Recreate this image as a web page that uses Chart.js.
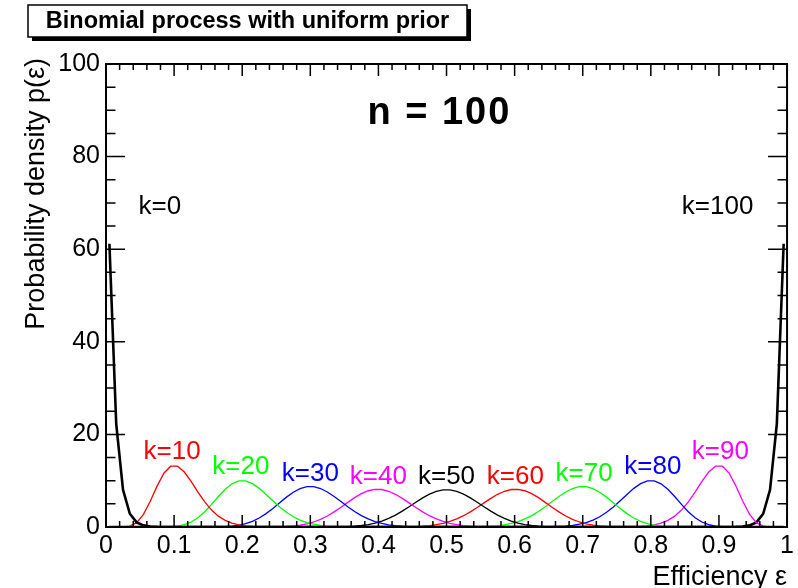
<!DOCTYPE html>
<html>
<head>
<meta charset="utf-8">
<script src="https://cdn.jsdelivr.net/npm/chart.js@4.4.1/dist/chart.umd.min.js"></script>
<style>
  html, body { margin: 0; padding: 0; background: #fff; }
  #wrap { width: 798px; height: 588px; }
</style>
</head>
<body>
<div id="wrap"><canvas id="chart" width="798" height="588"></canvas></div>
<script>
// bin centres of the efficiency axis
const eps = [
  0.005,0.015,0.025,0.035,0.045,0.055,0.065,0.075,0.085,0.095,
  0.105,0.115,0.125,0.135,0.145,0.155,0.165,0.175,0.185,0.195,
  0.205,0.215,0.225,0.235,0.245,0.255,0.265,0.275,0.285,0.295,
  0.305,0.315,0.325,0.335,0.345,0.355,0.365,0.375,0.385,0.395,
  0.405,0.415,0.425,0.435,0.445,0.455,0.465,0.475,0.485,0.495,
  0.505,0.515,0.525,0.535,0.545,0.555,0.565,0.575,0.585,0.595,
  0.605,0.615,0.625,0.635,0.645,0.655,0.665,0.675,0.685,0.695,
  0.705,0.715,0.725,0.735,0.745,0.755,0.765,0.775,0.785,0.795,
  0.805,0.815,0.825,0.835,0.845,0.855,0.865,0.875,0.885,0.895,
  0.905,0.915,0.925,0.935,0.945,0.955,0.965,0.975,0.985,0.995
];

// posterior density p(eps) for n = 100 and k successes
const k0 = [
  61.18,22.28,8.03,2.86,1.01,0.35,0.12,0.04,0.01,0,
  0,0,0,0,0,0,0,0,0,0, 0,0,0,0,0,0,0,0,0,0,
  0,0,0,0,0,0,0,0,0,0, 0,0,0,0,0,0,0,0,0,0,
  0,0,0,0,0,0,0,0,0,0, 0,0,0,0,0,0,0,0,0,0,
  0,0,0,0,0,0,0,0,0,0, 0,0,0,0,0,0,0,0,0,0,
  0,0,0,0,0,0,0,0,0,0
];
const k10 = [
  0,0,0.02,0.20,0.94,2.72,5.56,8.83,11.61,13.13,
  13.14,11.87,9.83,7.54,5.41,3.66,2.34,1.43,0.83,0.46,
  0.25,0.13,0.06,0.03,0.01,0,0,0,0,0,
  0,0,0,0,0,0,0,0,0,0, 0,0,0,0,0,0,0,0,0,0,
  0,0,0,0,0,0,0,0,0,0, 0,0,0,0,0,0,0,0,0,0,
  0,0,0,0,0,0,0,0,0,0, 0,0,0,0,0,0,0,0,0,0,
  0,0,0,0,0,0,0,0,0,0
];
const k20 = [
  0,0,0,0,0,0,0,0,0.02,0.07,
  0.20,0.50,1.08,2.00,3.30,4.88,6.58,8.14,9.32,9.95,
  9.95,9.37,8.34,7.04,5.66,4.33,3.17,2.22,1.50,0.97,
  0.60,0.36,0.21,0.12,0.06,0.03,0.02,0,0,0,
  0,0,0,0,0,0,0,0,0,0, 0,0,0,0,0,0,0,0,0,0,
  0,0,0,0,0,0,0,0,0,0, 0,0,0,0,0,0,0,0,0,0,
  0,0,0,0,0,0,0,0,0,0, 0,0,0,0,0,0,0,0,0,0
];
const k30 = [
  0,0,0,0,0,0,0,0,0,0,
  0,0,0,0,0,0.01,0.03,0.08,0.19,0.38,
  0.71,1.22,1.94,2.89,4.01,5.24,6.45,7.52,8.30,8.71,
  8.71,8.31,7.57,6.59,5.49,4.39,3.36,2.47,1.74,1.18,
  0.77,0.48,0.29,0.17,0.09,0.05,0.03,0.01,0,0,
  0,0,0,0,0,0,0,0,0,0, 0,0,0,0,0,0,0,0,0,0,
  0,0,0,0,0,0,0,0,0,0, 0,0,0,0,0,0,0,0,0,0,
  0,0,0,0,0,0,0,0,0,0
];
const k40 = [
  0,0,0,0,0,0,0,0,0,0, 0,0,0,0,0,0,0,0,0,0,
  0,0,0,0.01,0.02,0.05,0.11,0.22,0.39,0.67,
  1.08,1.65,2.38,3.26,4.27,5.32,6.34,7.20,7.83,8.14,
  8.10,7.72,7.06,6.19,5.21,4.21,3.27,2.44,1.74,1.20,
  0.79,0.50,0.31,0.18,0.10,0.05,0.03,0.01,0,0,
  0,0,0,0,0,0,0,0,0,0, 0,0,0,0,0,0,0,0,0,0,
  0,0,0,0,0,0,0,0,0,0, 0,0,0,0,0,0,0,0,0,0
];
const k50 = [
  0,0,0,0,0,0,0,0,0,0, 0,0,0,0,0,0,0,0,0,0,
  0,0,0,0,0,0,0,0,0,0,
  0,0,0.01,0.03,0.05,0.10,0.18,0.32,0.53,0.84,
  1.28,1.86,2.58,3.43,4.37,5.35,6.29,7.09,7.69,8.00,
  8.00,7.69,7.09,6.29,5.35,4.37,3.43,2.58,1.86,1.28,
  0.84,0.53,0.32,0.18,0.10,0.05,0.03,0.01,0,0,
  0,0,0,0,0,0,0,0,0,0, 0,0,0,0,0,0,0,0,0,0,
  0,0,0,0,0,0,0,0,0,0
];
const k60 = [
  0,0,0,0,0,0,0,0,0,0, 0,0,0,0,0,0,0,0,0,0,
  0,0,0,0,0,0,0,0,0,0, 0,0,0,0,0,0,0,0,0,0,
  0,0,0.01,0.03,0.05,0.10,0.18,0.31,0.50,0.79,
  1.20,1.74,2.44,3.27,4.21,5.21,6.19,7.06,7.72,8.10,
  8.14,7.83,7.20,6.34,5.32,4.27,3.26,2.38,1.65,1.08,
  0.67,0.39,0.22,0.11,0.05,0.02,0.01,0,0,0,
  0,0,0,0,0,0,0,0,0,0, 0,0,0,0,0,0,0,0,0,0
];
const k70 = [
  0,0,0,0,0,0,0,0,0,0, 0,0,0,0,0,0,0,0,0,0,
  0,0,0,0,0,0,0,0,0,0, 0,0,0,0,0,0,0,0,0,0,
  0,0,0,0,0,0,0,0,0,0,
  0,0,0.01,0.03,0.05,0.09,0.17,0.29,0.48,0.77,
  1.18,1.74,2.47,3.36,4.39,5.49,6.59,7.57,8.31,8.71,
  8.71,8.30,7.52,6.45,5.24,4.01,2.89,1.94,1.22,0.71,
  0.38,0.19,0.08,0.03,0.01,0,0,0,0,0,
  0,0,0,0,0,0,0,0,0,0
];
const k80 = [
  0,0,0,0,0,0,0,0,0,0, 0,0,0,0,0,0,0,0,0,0,
  0,0,0,0,0,0,0,0,0,0, 0,0,0,0,0,0,0,0,0,0,
  0,0,0,0,0,0,0,0,0,0, 0,0,0,0,0,0,0,0,0,0,
  0,0,0,0.02,0.03,0.06,0.12,0.21,0.36,0.60,
  0.97,1.50,2.22,3.17,4.33,5.66,7.04,8.34,9.37,9.95,
  9.95,9.32,8.14,6.58,4.88,3.30,2.00,1.08,0.50,0.20,
  0.07,0.02,0,0,0,0,0,0,0,0
];
const k90 = [
  0,0,0,0,0,0,0,0,0,0, 0,0,0,0,0,0,0,0,0,0,
  0,0,0,0,0,0,0,0,0,0, 0,0,0,0,0,0,0,0,0,0,
  0,0,0,0,0,0,0,0,0,0, 0,0,0,0,0,0,0,0,0,0,
  0,0,0,0,0,0,0,0,0,0,
  0,0,0,0,0,0.01,0.03,0.06,0.13,0.25,
  0.46,0.83,1.43,2.34,3.66,5.41,7.54,9.83,11.87,13.14,
  13.13,11.61,8.83,5.56,2.72,0.94,0.20,0.02,0,0
];
const k100 = [
  0,0,0,0,0,0,0,0,0,0, 0,0,0,0,0,0,0,0,0,0,
  0,0,0,0,0,0,0,0,0,0, 0,0,0,0,0,0,0,0,0,0,
  0,0,0,0,0,0,0,0,0,0, 0,0,0,0,0,0,0,0,0,0,
  0,0,0,0,0,0,0,0,0,0, 0,0,0,0,0,0,0,0,0,0,
  0,0,0,0,0,0,0,0,0,0,
  0,0.01,0.04,0.12,0.35,1.01,2.86,8.03,22.28,61.18
];

const curves = [k0, k10, k20, k30, k40, k50, k60, k70, k80, k90, k100];
const curveNames = ['k=0','k=10','k=20','k=30','k=40','k=50','k=60','k=70','k=80','k=90','k=100'];
const curveColors = ['#000000','#ff0000','#00ff00','#0000ff','#ff00ff','#000000',
                     '#ff0000','#00ff00','#0000ff','#ff00ff','#000000'];

// where each k label sits, in axis units
const labelX = [0.079, 0.097, 0.198, 0.300, 0.400, 0.500, 0.601, 0.702, 0.803, 0.902, 0.898];
const labelY = [69.2, 16.3, 13.0, 11.4, 10.8, 10.8, 10.8, 11.4, 13.0, 16.3, 69.2];

const FONT = "'Liberation Sans', Arial, Helvetica, sans-serif";

const datasets = curves.map((vals, i) => ({
  label: curveNames[i],
  data: vals,
  borderColor: curveColors[i],
  borderWidth: (i === 0 || i === curves.length - 1) ? 2.6 : 1.3,
  pointRadius: 0,
  tension: 0,
  fill: false
}));

// ROOT-like frame: box, inward ticks on all four sides, texts
const frame = {
  id: 'frame',
  afterDatasetsDraw(chart) {
    const { ctx, chartArea: a, scales: { x, y } } = chart;
    ctx.save();
    ctx.strokeStyle = '#000';
    ctx.lineWidth = 2;
    ctx.strokeRect(a.left, a.top, a.right - a.left, a.bottom - a.top);

    ctx.lineWidth = 1.5;
    ctx.beginPath();
    for (let i = 0; i <= 50; i++) {
      const px = x.getPixelForValue(i / 50);
      const len = i % 5 === 0 ? 12 : 6;
      ctx.moveTo(px, a.bottom); ctx.lineTo(px, a.bottom - len);
      ctx.moveTo(px, a.top); ctx.lineTo(px, a.top + len);
    }
    for (let i = 0; i <= 20; i++) {
      const py = y.getPixelForValue(i * 5);
      const len = i % 4 === 0 ? 19 : 9.5;
      ctx.moveTo(a.left, py); ctx.lineTo(a.left + len, py);
      ctx.moveTo(a.right, py); ctx.lineTo(a.right - len, py);
    }
    ctx.stroke();

    // curve labels
    ctx.textAlign = 'center';
    ctx.textBaseline = 'middle';
    ctx.font = '26px ' + FONT;
    curveNames.forEach((name, i) => {
      ctx.fillStyle = curveColors[i];
      ctx.fillText(name, x.getPixelForValue(labelX[i]), y.getPixelForValue(labelY[i]));
    });

    ctx.fillStyle = '#000';
    ctx.font = 'bold 38px ' + FONT;
    ctx.letterSpacing = '2px';
    ctx.fillText('n = 100', x.getPixelForValue(0.488) + 1, y.getPixelForValue(89.2));
    ctx.letterSpacing = '0px';

    // axis titles
    ctx.font = '27px ' + FONT;
    ctx.textAlign = 'right';
    ctx.textBaseline = 'alphabetic';
    ctx.fillText('Efficiency \u03b5', a.right, 585);

    ctx.save();
    ctx.translate(37, 58);
    ctx.rotate(-Math.PI / 2);
    ctx.textBaseline = 'middle';
    ctx.fillText('Probability density p(\u03b5)', 0, 0);
    ctx.restore();

    // title pave with shadow
    ctx.fillStyle = '#000';
    ctx.fillRect(32, 9, 439, 32);
    ctx.fillStyle = '#fff';
    ctx.fillRect(28, 5, 439, 32);
    ctx.lineWidth = 1.5;
    ctx.strokeRect(28, 5, 439, 32);
    ctx.fillStyle = '#000';
    ctx.textAlign = 'center';
    ctx.textBaseline = 'middle';
    ctx.font = 'bold 23.5px ' + FONT;
    ctx.fillText('Binomial process with uniform prior', 247.5, 22);
    ctx.restore();
  }
};

const ctx = document.getElementById('chart').getContext('2d');
const chart = new Chart(ctx, {
  type: 'line',
  data: { labels: eps, datasets: datasets },
  options: {
    responsive: false,
    animation: false,
    events: [],
    layout: { padding: { top: 64, right: 8, left: 0, bottom: 0 } },
    plugins: {
      legend: { display: false },
      title: { display: false },
      tooltip: { enabled: false }
    },
    scales: {
      x: {
        type: 'linear',
        min: 0,
        max: 1,
        grid: { display: false, drawTicks: false },
        border: { display: false },
        ticks: {
          stepSize: 0.1,
          padding: 4,
          autoSkip: false,
          maxRotation: 0,
          color: '#000',
          font: { family: FONT, size: 25 },
          callback: v => (v === 0 || v === 1) ? String(v) : (Math.round(v * 10) / 10).toFixed(1)
        },
        afterFit: s => { s.height = 61; }
      },
      y: {
        min: 0,
        max: 100,
        grid: { display: false, drawTicks: false },
        border: { display: false },
        ticks: {
          stepSize: 20,
          padding: 6,
          color: '#000',
          font: { family: FONT, size: 25 }
        },
        afterFit: s => { s.width = 106; }
      }
    }
  },
  plugins: [frame]
});
</script>
</body>
</html>
